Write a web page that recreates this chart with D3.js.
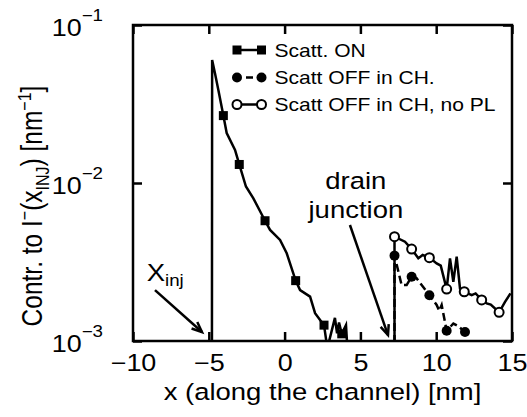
<!DOCTYPE html>
<html>
<head>
<meta charset="utf-8">
<style>
  body { margin: 0; background: #fff; }
  svg { display: block; font-family: "Liberation Sans", Arial, sans-serif; }
</style>
</head>
<body>
<svg width="527" height="417"></svg>
<script src="https://cdn.jsdelivr.net/npm/d3@7"></script>
<script>
// ---- data ----
var xTicks = [-10, -5, 0, 5, 10, 15];
var yTicks = [1e-3, 1e-2, 1e-1];
var yTickExp = ["\u22123", "\u22122", "\u22121"];

// Scatt. ON (solid line, filled squares)
var onX = [-4.8, -4.78, -4.59, -4.37, -4.04, -3.82, -3.27, -2.99, -2.55, -2.06, -1.29, -0.96, -0.30, 0.14, 0.73, 1.02, 1.68, 2.01, 2.6, 2.82, 3.32, 3.46, 3.59, 3.77, 4.05, 4.14];
var onY = [1e-4, 0.060, 0.0494, 0.0388, 0.0267, 0.0207, 0.0162, 0.0131, 0.0095, 0.0080, 0.00577, 0.00505, 0.00436, 0.00359, 0.00241, 0.00210, 0.00191, 0.00150, 0.00126, 0.0009, 0.0014, 0.00112, 0.00131, 0.00111, 0.00126, 0.0009];
var onMarks = [4, 7, 10, 14, 18, 23];

// Scatt OFF in CH. (dashed line, filled circles)
var offX = [7.25, 7.25, 7.72, 8.05, 8.38, 8.7, 9.55, 10.03, 10.2, 10.36, 10.69, 11.13, 11.46, 11.9];
var offY = [1e-4, 0.00347, 0.00226, 0.00226, 0.00255, 0.00250, 0.00195, 0.00169, 0.00155, 0.00169, 0.00116, 0.00129, 0.00124, 0.00114];
var offMarks = [1, 4, 6, 10, 13];

// Scatt OFF in CH, no PL (solid line, open circles)
var noplX = [7.25, 7.25, 7.94, 8.38, 8.82, 9.11, 9.55, 10.03, 10.3, 10.69, 10.91, 11.13, 11.35, 11.57, 11.85, 12.34, 12.6, 13.0, 13.33, 13.6, 14.15, 14.54, 14.9];
var noplY = [1e-4, 0.00457, 0.00425, 0.00382, 0.00334, 0.0035, 0.00337, 0.0031, 0.0030, 0.00213, 0.00333, 0.00237, 0.00342, 0.00215, 0.00205, 0.00195, 0.0020, 0.00182, 0.00173, 0.0017, 0.00152, 0.00177, 0.002];
var noplMarks = [1, 3, 6, 9, 14, 17, 20];

var legendNames = ["Scatt. ON", "Scatt OFF in CH.", "Scatt OFF in CH, no PL"];

// ---- chart ----
var svg = d3.select("svg"),
  margin = { top: 25, right: 15, bottom: 76, left: 133 },
  width = +svg.attr("width") - margin.left - margin.right,
  height = +svg.attr("height") - margin.top - margin.bottom,
  sx = 1.17; // text in the picture is a bit wide

var x = d3.scaleLinear().domain([-10, 15]).range([0, width]),
  y = d3.scaleLog().domain([1e-3, 1e-1]).range([height, 0]);

svg.append("rect").attr("width", 527).attr("height", 417).attr("fill", "#fff");

var g = svg.append("g")
  .attr("transform", "translate(" + margin.left + "," + margin.top + ")");

g.append("clipPath").attr("id", "clip")
  .append("rect").attr("width", width).attr("height", height);

function zip(xs, ys) {
  return xs.map(function(v, i) { return [v, ys[i]]; });
}

var line = d3.line()
  .x(function(d) { return x(d[0]); })
  .y(function(d) { return y(d[1]); });

var plot = g.append("g").attr("clip-path", "url(#clip)");

var onData = zip(onX, onY),
  offData = zip(offX, offY),
  noplData = zip(noplX, noplY);

plot.append("path").datum(offData)
  .attr("d", line).attr("fill", "none").attr("stroke", "#000")
  .attr("stroke-width", 2.5).attr("stroke-dasharray", "8,4");

plot.append("path").datum(noplData)
  .attr("d", line).attr("fill", "none").attr("stroke", "#000")
  .attr("stroke-width", 2.5);

plot.append("path").datum(onData)
  .attr("d", line).attr("fill", "none").attr("stroke", "#000")
  .attr("stroke-width", 2.5);

plot.selectAll(".sq")
  .data(onMarks.map(function(i) { return onData[i]; }))
  .enter().append("rect")
  .attr("class", "sq")
  .attr("x", function(d) { return x(d[0]) - 4.5; })
  .attr("y", function(d) { return y(d[1]) - 4.5; })
  .attr("width", 9).attr("height", 9)
  .attr("fill", "#000");

plot.selectAll(".dot")
  .data(offMarks.map(function(i) { return offData[i]; }))
  .enter().append("circle")
  .attr("class", "dot")
  .attr("cx", function(d) { return x(d[0]); })
  .attr("cy", function(d) { return y(d[1]); })
  .attr("r", 5).attr("fill", "#000");

plot.selectAll(".odot")
  .data(noplMarks.map(function(i) { return noplData[i]; }))
  .enter().append("circle")
  .attr("class", "odot")
  .attr("cx", function(d) { return x(d[0]); })
  .attr("cy", function(d) { return y(d[1]); })
  .attr("r", 4.5).attr("fill", "#fff").attr("stroke", "#000").attr("stroke-width", 2);

// axes (inward ticks on all four sides)
var xb = g.append("g")
  .attr("transform", "translate(0," + height + ")")
  .call(d3.axisBottom(x).tickValues(xTicks).tickSizeInner(-9).tickSizeOuter(0).tickPadding(14)
    .tickFormat(d3.format("d")));
xb.selectAll("text").attr("font-size", 23).attr("fill", "#000")
  .attr("transform", "scale(" + sx + ",1)");

var xt = g.append("g")
  .call(d3.axisTop(x).tickValues(xTicks).tickSizeInner(-9).tickSizeOuter(0).tickFormat(""));

var yl = g.append("g")
  .call(d3.axisLeft(y).tickValues(yTicks).tickSizeInner(-9).tickSizeOuter(0).tickFormat(""));
var yr = g.append("g")
  .attr("transform", "translate(" + width + ",0)")
  .call(d3.axisRight(y).tickValues(yTicks).tickSizeInner(-9).tickSizeOuter(0).tickFormat(""));

[xb, xt, yl, yr].forEach(function(a) {
  a.select(".domain").remove();
  a.selectAll("line").attr("stroke", "#000").attr("stroke-width", 2.5);
});

yl.selectAll(".tick").each(function(d, i) {
  var t = d3.select(this).append("text")
    .attr("transform", "translate(-30,0) scale(" + sx + ",1)")
    .attr("text-anchor", "end").attr("fill", "#000");
  t.append("tspan").attr("y", 10).attr("font-size", 23).text("10");
  t.append("tspan").attr("dy", -15).attr("font-size", 16).text(yTickExp[i]);
});

g.append("rect")
  .attr("width", width).attr("height", height)
  .attr("fill", "none").attr("stroke", "#000").attr("stroke-width", 2.5);

// axis titles
svg.append("text")
  .attr("transform", "translate(" + (margin.left + width / 2) + ",400) scale(" + sx + ",1)")
  .attr("text-anchor", "middle").attr("font-size", 23.5)
  .text("x (along the channel) [nm]");

var yt = svg.append("text")
  .attr("transform", "translate(42,206) rotate(-90) scale(1," + sx + ")")
  .attr("text-anchor", "middle").attr("font-size", 24.5);
yt.append("tspan").text("Contr. to I");
yt.append("tspan").attr("dy", -9).attr("font-size", 16).text("\u2212");
yt.append("tspan").attr("dy", 9).text("(x");
yt.append("tspan").attr("dy", 6).attr("font-size", 16).text("INJ");
yt.append("tspan").attr("dy", -6).text(") [nm");
yt.append("tspan").attr("dy", -9).attr("font-size", 16).text("\u22121");
yt.append("tspan").attr("dy", 9).text("]");

// legend
var leg = g.append("g");
var rows = [25, 52.5, 79.5];
legendNames.forEach(function(name, i) {
  var r = leg.append("g").attr("transform", "translate(0," + rows[i] + ")");
  var x0 = 104, x1 = 128.5;
  r.append("line").attr("x1", x0).attr("x2", x1)
    .attr("stroke", "#000").attr("stroke-width", 2.5)
    .attr("stroke-dasharray", i === 1 ? "0,9,7,20" : null);
  [x0, x1].forEach(function(cx) {
    if (i === 0) {
      r.append("rect").attr("x", cx - 4.5).attr("y", -4.5).attr("width", 9).attr("height", 9).attr("fill", "#000");
    } else if (i === 1) {
      r.append("circle").attr("cx", cx).attr("r", 5).attr("fill", "#000");
    } else {
      r.append("circle").attr("cx", cx).attr("r", 4.5).attr("fill", "#fff").attr("stroke", "#000").attr("stroke-width", 2);
    }
  });
  r.append("text")
    .attr("transform", "translate(141.5,6.5) scale(" + sx + ",1)")
    .attr("font-size", 18).text(name);
});

// annotations
function arrow(x0, y0, x1, y1) {
  var px0 = x(x0), py0 = y(y0), px1 = x(x1), py1 = y(y1);
  var a = Math.atan2(py1 - py0, px1 - px0), L = 11, w = 0.4;
  g.append("line").attr("x1", px0).attr("y1", py0).attr("x2", px1).attr("y2", py1)
    .attr("stroke", "#000").attr("stroke-width", 2.5);
  g.append("path")
    .attr("d", "M" + (px1 - L * Math.cos(a - w)) + "," + (py1 - L * Math.sin(a - w)) +
      "L" + px1 + "," + py1 +
      "L" + (px1 - L * Math.cos(a + w)) + "," + (py1 - L * Math.sin(a + w)))
    .attr("fill", "none").attr("stroke", "#000").attr("stroke-width", 2.5);
}
arrow(-8.55, 0.0021, -5.45, 0.00114);
arrow(4.31, 0.00542, 6.82, 0.00109);

var xi = g.append("text")
  .attr("transform", "translate(" + x(-9.1) + "," + y(0.0024) + ") scale(" + sx + ",1)")
  .attr("font-size", 23.5);
xi.append("tspan").text("X");
xi.append("tspan").attr("dy", 5).attr("font-size", 16).text("inj");

g.append("text")
  .attr("transform", "translate(" + x(4.7) + "," + y(0.00916) + ") scale(" + sx + ",1)")
  .attr("text-anchor", "middle").attr("font-size", 23.5).text("drain");
g.append("text")
  .attr("transform", "translate(" + x(4.7) + "," + y(0.0060) + ") scale(" + sx + ",1)")
  .attr("text-anchor", "middle").attr("font-size", 23.5).text("junction");
</script>
</body>
</html>
